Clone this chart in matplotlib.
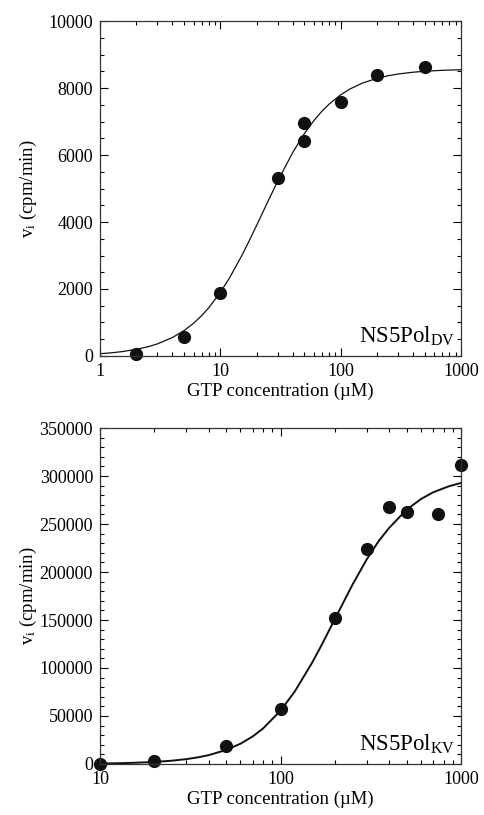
import matplotlib
matplotlib.use("Agg")
import matplotlib.pyplot as plt
from matplotlib.ticker import MultipleLocator, LogLocator, NullFormatter, FixedLocator

plt.rcParams["font.family"] = ["Liberation Serif", "DejaVu Serif"]
plt.rcParams["mathtext.fontset"] = "custom"
plt.rcParams["mathtext.rm"] = "Liberation Serif"
plt.rcParams["mathtext.it"] = "Liberation Serif:italic"

# ── NS5Pol DV: measured points ──
dv_gtp = [2, 5, 10, 30, 50, 50, 100, 200, 500]
dv_rate = [70, 580, 1870, 5320, 6945, 6430, 7570, 8400, 8620]
# fitted curve
dv_fit_gtp = [1, 1.2, 1.5, 2, 2.5, 3, 4, 5, 6, 7, 8, 10, 12, 15, 17, 20, 25, 30,
              40, 50, 60, 70, 80, 100, 120, 150, 200, 250, 300, 400, 500, 700, 1000]
dv_fit_rate = [68, 90, 127, 197, 275, 361, 552, 759, 979, 1206, 1436, 1898, 2348,
               2982, 3369, 3895, 4634, 5225, 6079, 6643, 7032, 7311, 7517, 7798,
               7975, 8140, 8290, 8369, 8418, 8472, 8501, 8529, 8546]

# ── NS5Pol KV: measured points ──
kv_gtp = [10, 20, 50, 100, 200, 300, 400, 500, 750, 1000]
kv_rate = [0, 3000, 18400, 57000, 152000, 224000, 268000, 263000, 260000, 311000]
kv_fit_gtp = [10, 12, 15, 20, 25, 30, 35, 40, 50, 60, 70, 80, 100, 120, 150, 170,
              200, 250, 300, 350, 400, 500, 600, 700, 850, 1000]
kv_fit_rate = [480, 710, 1150, 2120, 3410, 5030, 6960, 9200, 14600, 21100, 28600,
               36950, 55500, 75560, 105800, 124900, 151000, 186500, 213000, 232300,
               246000, 265000, 276000, 283000, 289100, 292800]

fig = plt.figure(figsize=(4.84, 8.15), dpi=100)
ax1 = fig.add_axes([0.2066, 0.5632, 0.7459, 0.4110])
ax2 = fig.add_axes([0.2066, 0.0626, 0.7459, 0.4122])


def style(ax):
    ax.set_xscale("log")
    ax.tick_params(which="both", direction="in", top=True, right=True,
                   labelsize=13, width=0.8, pad=5)
    ax.tick_params(which="major", length=6)
    ax.tick_params(which="minor", length=3)
    ax.xaxis.set_minor_locator(LogLocator(base=10, subs=range(2, 10)))
    ax.xaxis.set_minor_formatter(NullFormatter())
    for s in ax.spines.values():
        s.set_linewidth(0.9)
        s.set_color("#333333")
    ax.set_xlabel("GTP concentration (µM)", fontsize=13.5, labelpad=2)
    ax.set_ylabel(r"v$_{\rm i}$ (cpm/min)", fontsize=13.5)
    ax.yaxis.set_label_coords(-0.17, 0.5)


# ── top panel ──
style(ax1)
ax1.plot(dv_fit_gtp, dv_fit_rate, color="#111111", lw=0.9)
ax1.plot(dv_gtp, dv_rate, "o", color="#111111", ms=8.5, clip_on=False)
ax1.set_xlim(1, 1000)
ax1.set_ylim(0, 10000)
ax1.xaxis.set_major_locator(FixedLocator([1, 10, 100, 1000]))
ax1.set_xticklabels(["1", "10", "100", "1000"])
ax1.yaxis.set_major_locator(MultipleLocator(2000))
ax1.yaxis.set_minor_locator(MultipleLocator(500))
ax1.text(0.985, 0.025, r"NS5Pol$_{\rm DV}$", transform=ax1.transAxes,
         ha="right", va="bottom", fontsize=16.5)

# ── bottom panel ──
style(ax2)
ax2.plot(kv_fit_gtp, kv_fit_rate, color="#111111", lw=1.4)
ax2.plot(kv_gtp, kv_rate, "o", color="#111111", ms=8.5, clip_on=False)
ax2.set_xlim(10, 1000)
ax2.set_ylim(0, 350000)
ax2.xaxis.set_major_locator(FixedLocator([10, 100, 1000]))
ax2.set_xticklabels(["10", "100", "1000"])
ax2.yaxis.set_major_locator(MultipleLocator(50000))
ax2.yaxis.set_minor_locator(MultipleLocator(10000))
ax2.text(0.985, 0.025, r"NS5Pol$_{\rm KV}$", transform=ax2.transAxes,
         ha="right", va="bottom", fontsize=16.5)

fig.savefig("out.png", dpi=100)
